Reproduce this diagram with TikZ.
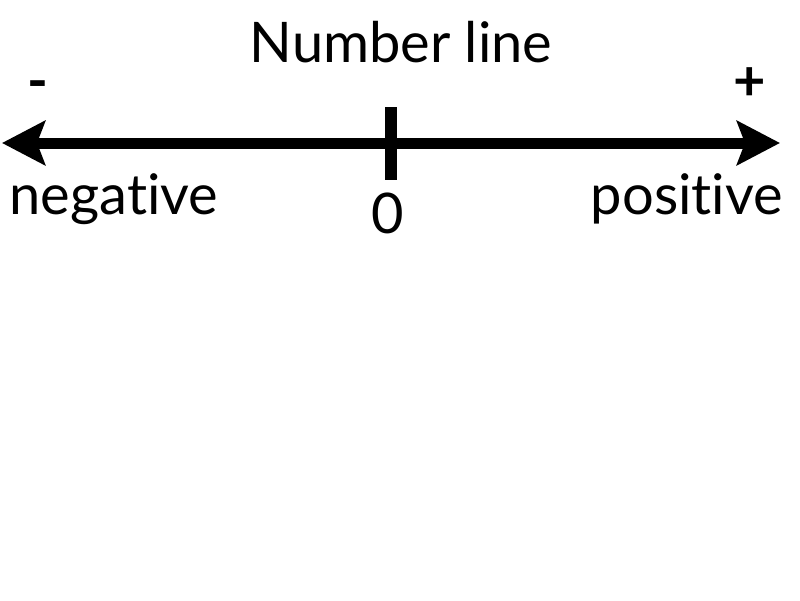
\documentclass[tikz,border=0pt]{standalone}
\usepackage{fontspec}
\setmainfont{Lato}[Ligatures={NoCommon}]
\usetikzlibrary{arrows.meta}
\tikzset{
  lbl/.style={inner sep=0pt, anchor=base, font=\fontsize{56}{60}\selectfont},
  axis/.style={line width=11pt, -{Stealth[length=43pt,width=44pt,inset=8pt]}},
  tickmark/.style={line width=12pt}
}
\begin{document}
\begin{tikzpicture}[x=1pt,y=-1pt]
\useasboundingbox[fill=white] (0,0) rectangle (800,600);
\coordinate (mid) at (391,143);
\coordinate (lefttip) at (2,143);
\coordinate (righttip) at (780,143);
\coordinate (ticktop) at (391,107);
\coordinate (tickbot) at (391,180);
\draw[axis] (mid) -- (lefttip);
\draw[axis] (mid) -- (righttip);
\draw[tickmark] (ticktop) -- (tickbot);
\node[lbl] (title) at (401,62) {Number line};
\node[lbl] (neg) at (114,214) {negative};
\node[lbl] (pos) at (687,214) {positive};
\node[lbl] (zero) at (388,233) {0};
\node[lbl] (minus) at (38,100) {\textbf{-}};
\node[lbl] (plus) at (750,100) {\textbf{+}};
\end{tikzpicture}
\end{document}
